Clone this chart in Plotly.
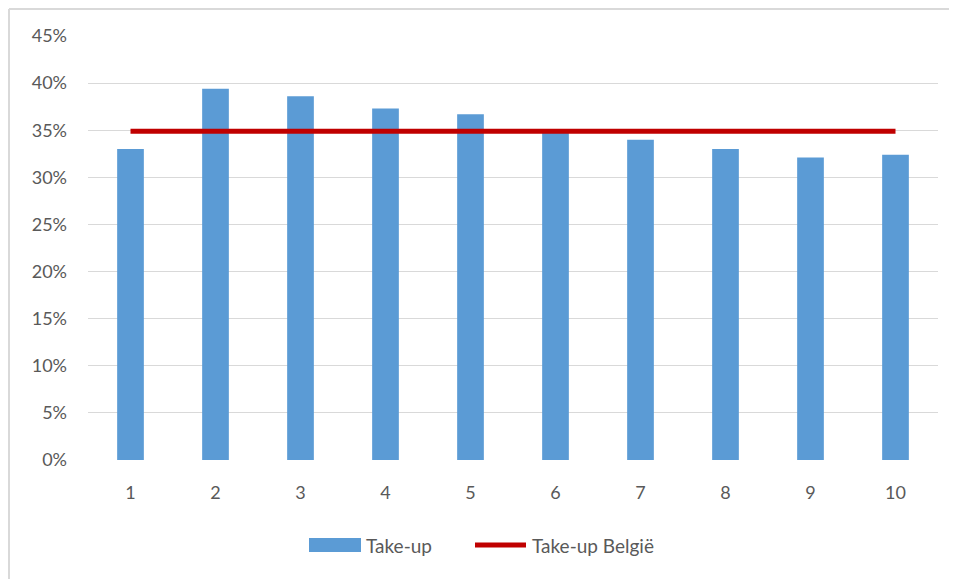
import plotly.graph_objects as go

categories = ["1", "2", "3", "4", "5", "6", "7", "8", "9", "10"]
take_up = [0.330, 0.394, 0.386, 0.373, 0.367, 0.349, 0.340, 0.330, 0.321, 0.324]
take_up_belgie = [0.349] * len(categories)
y_ticks = [0, 0.05, 0.10, 0.15, 0.20, 0.25, 0.30, 0.35, 0.40, 0.45]
y_tick_labels = ["0%", "5%", "10%", "15%", "20%", "25%", "30%", "35%", "40%", "45%"]
legend_names = ["Take-up", "Take-up België"]

FONT = "Lato"
TXT = "#595959"
BAR_C = "#5B9BD5"
LINE_C = "#C00000"

fig = go.Figure()
fig.add_trace(go.Bar(
    x=categories, y=take_up, name=legend_names[0],
    marker=dict(color=BAR_C, line=dict(width=0)), showlegend=False,
))
fig.add_trace(go.Scatter(
    x=categories, y=take_up_belgie, name=legend_names[1],
    mode="lines", line=dict(color=LINE_C, width=5), showlegend=False,
))

# page body has an 8px margin; work in screen coords and subtract it
OFF = 8
W, H = 949, 571
L, R, T, B = 80, 19, 28, 119
pw, ph = W - L - R, H - T - B

def px(x):
    return (x - OFF - L) / pw

def py(y):
    return (H - B - (y - OFF)) / ph

BORDER = "#D9D9D9"
shapes = [
    dict(type="line", xref="paper", yref="paper",
         x0=px(9), x1=px(9), y0=py(9), y1=py(600),
         line=dict(color=BORDER, width=2), layer="below"),
    dict(type="line", xref="paper", yref="paper",
         x0=px(9), x1=px(990), y0=py(9), y1=py(9),
         line=dict(color=BORDER, width=2), layer="below"),
    dict(type="rect", xref="paper", yref="paper",
         x0=px(309), x1=px(361), y0=py(552), y1=py(538),
         line=dict(width=0), fillcolor=BAR_C),
    dict(type="line", xref="paper", yref="paper",
         x0=px(475), x1=px(526), y0=py(545), y1=py(545),
         line=dict(color=LINE_C, width=5)),
]
annotations = [
    dict(xref="paper", yref="paper", x=px(364), y=py(545), xanchor="left", yanchor="middle",
         text=legend_names[0], showarrow=False, font=dict(family=FONT, size=19, color=TXT)),
    dict(xref="paper", yref="paper", x=px(530), y=py(545), xanchor="left", yanchor="middle",
         text=legend_names[1], showarrow=False, font=dict(family=FONT, size=19, color=TXT)),
]

fig.update_layout(
    width=W, height=H,
    margin=dict(l=L, r=R, t=T, b=B),
    paper_bgcolor="white", plot_bgcolor="white",
    font=dict(family=FONT, size=18, color=TXT),
    bargap=0.686,
    showlegend=False,
    xaxis=dict(type="category", showgrid=False, zeroline=False, showline=False,
               ticks="", ticklabelstandoff=20, tickfont=dict(size=18, color=TXT)),
    yaxis=dict(range=[0, 0.45], tickvals=y_ticks, ticktext=y_tick_labels,
               showgrid=True, gridcolor="#D9D9D9", gridwidth=1, zeroline=False,
               showline=False, ticks="", ticklabelstandoff=20,
               tickfont=dict(size=18, color=TXT)),
    shapes=shapes,
    annotations=annotations,
)

fig.write_html("out.html")
